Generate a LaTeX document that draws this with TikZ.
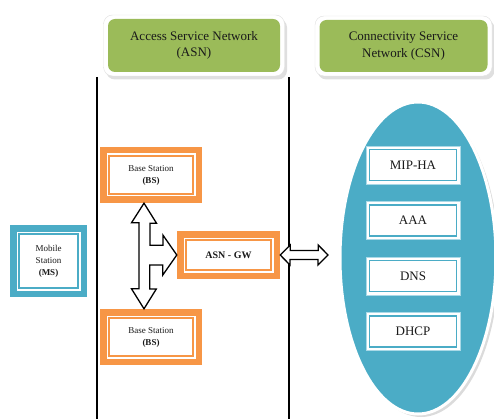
\documentclass[tikz,border=0pt]{standalone}
\usepackage{fontspec}
\setmainfont{Liberation Serif}
\usetikzlibrary{shapes.geometric,shadows,calc}

\definecolor{hdrgreen}{HTML}{9BBB59}
\definecolor{bsorange}{HTML}{F79646}
\definecolor{aqua}{HTML}{4BACC6}
\definecolor{paleaqua}{HTML}{A9D9E7}
\definecolor{txtdark}{HTML}{1A1A1A}

\tikzset{
  % thick coloured band, white gap, thin inner line
  bandbox/.style={fill=#1, inner sep=0pt, align=center, text=txtdark,
    path picture={
      \fill[white] ([shift={(6.5pt,6.5pt)}]path picture bounding box.south west)
        rectangle ([shift={(-6.5pt,-6.5pt)}]path picture bounding box.north east);
      \draw[#1, line width=1.3pt] ([shift={(9pt,9pt)}]path picture bounding box.south west)
        rectangle ([shift={(-9pt,-9pt)}]path picture bounding box.north east);
    }},
  hdrframe/.style={fill=white, draw=black!12, rounded corners=9pt,
    drop shadow={shadow xshift=2.5pt, shadow yshift=-3.5pt, fill=black!25}},
  hdr/.style={fill=hdrgreen, rounded corners=7pt, align=center, text=txtdark,
    font=\fontsize{13}{16.5}\selectfont},
  itembox/.style={fill=white, draw=paleaqua, line width=0.8pt, inner sep=0pt,
    minimum width=94pt, minimum height=38pt, text=txtdark,
    font=\fontsize{13}{16}\selectfont,
    path picture={
      \draw[aqua, line width=1.2pt] ([shift={(3.5pt,3.5pt)}]path picture bounding box.south west)
        rectangle ([shift={(-3.5pt,-3.5pt)}]path picture bounding box.north east);
    }},
  small/.style={font=\fontsize{9}{12}\selectfont},
  vline/.style={draw=black, line width=1.2pt},
  fatarrow/.style={fill=white, draw=black, line width=1.3pt, line join=miter},
}

\begin{document}
\begin{tikzpicture}[x=1pt, y=-1pt]
\useasboundingbox (0,0) rectangle (494,419);

% column separators
\coordinate (l1top) at (97,77);
\coordinate (l1bot) at (97,419);
\coordinate (l2top) at (289,77);
\coordinate (l2bot) at (289,419);
\draw[vline] (l1top) -- (l1bot);
\draw[vline] (l2top) -- (l2bot);

% column headers
\node[hdrframe, minimum width=181pt, minimum height=61pt] (asnframe) at (194,45.5) {};
\node[hdr, minimum width=172pt, minimum height=53pt] (asn) at (194,45.5)
  {Access Service Network\\(ASN)};
\node[hdrframe, minimum width=177pt, minimum height=60pt] (csnframe) at (403.5,46) {};
\node[hdr, minimum width=168pt, minimum height=52pt] (csnhdr) at (403.5,46)
  {Connectivity Service\\Network (CSN)};

% mobile station
\node[bandbox=aqua, small, minimum width=77pt, minimum height=72pt] (ms) at (48.5,261)
  {Mobile\\Station\\\textbf{(MS)}};

% base stations and gateway
\node[bandbox=bsorange, small, minimum width=102pt, minimum height=56pt] (bs1) at (151,175)
  {Base Station\\\textbf{(BS)}};
\node[bandbox=bsorange, small, minimum width=102pt, minimum height=56pt] (bs2) at (151,337)
  {Base Station\\\textbf{(BS)}};
\node[bandbox=bsorange, minimum width=103pt, minimum height=48pt,
  font=\fontsize{10}{12}\selectfont\bfseries] (gw) at (228.5,255) {ASN - GW};

% core network cloud
\node[ellipse, fill=aqua, draw=white, line width=3pt, minimum width=156pt, minimum height=312pt,
  drop shadow={shadow xshift=3pt, shadow yshift=-3pt, fill=black!28}] (csn) at (418,258) {};
\node[itembox] (mip)  at (413,165)   {MIP-HA};
\node[itembox] (aaa)  at (413,220.5) {AAA};
\node[itembox] (dns)  at (413,276)   {DNS};
\node[itembox] (dhcp) at (413,331.5) {DHCP};

% three-way arrow: BS <-> ASN-GW <-> BS
\draw[fatarrow] ($(bs1.south)+(-7,0)$)
  -- ++(12.5,20) -- ++(-6.5,0) -- ++(0,22) -- ++(13,0) -- ++(0,-10)
  -- (gw.west)
  -- ++(-14,20) -- ++(0,-10) -- ++(-13,0) -- ++(0,24) -- ++(6.5,0)
  -- ($(bs2.north)+(-7,0)$)
  -- ++(-12.5,-20) -- ++(7.5,0) -- ++(0,-66) -- ++(-7.5,0) -- cycle;

% double arrow: ASN-GW <-> CSN
\coordinate (csnlink) at (328,255);
\draw[fatarrow] (gw.east)
  -- ++(10,-10) -- ++(0,5.5) -- ++(28,0) -- ++(0,-5.5)
  -- (csnlink)
  -- ++(-10,10) -- ++(0,-5.5) -- ++(-28,0) -- ++(0,5.5) -- cycle;
\end{tikzpicture}
\end{document}
